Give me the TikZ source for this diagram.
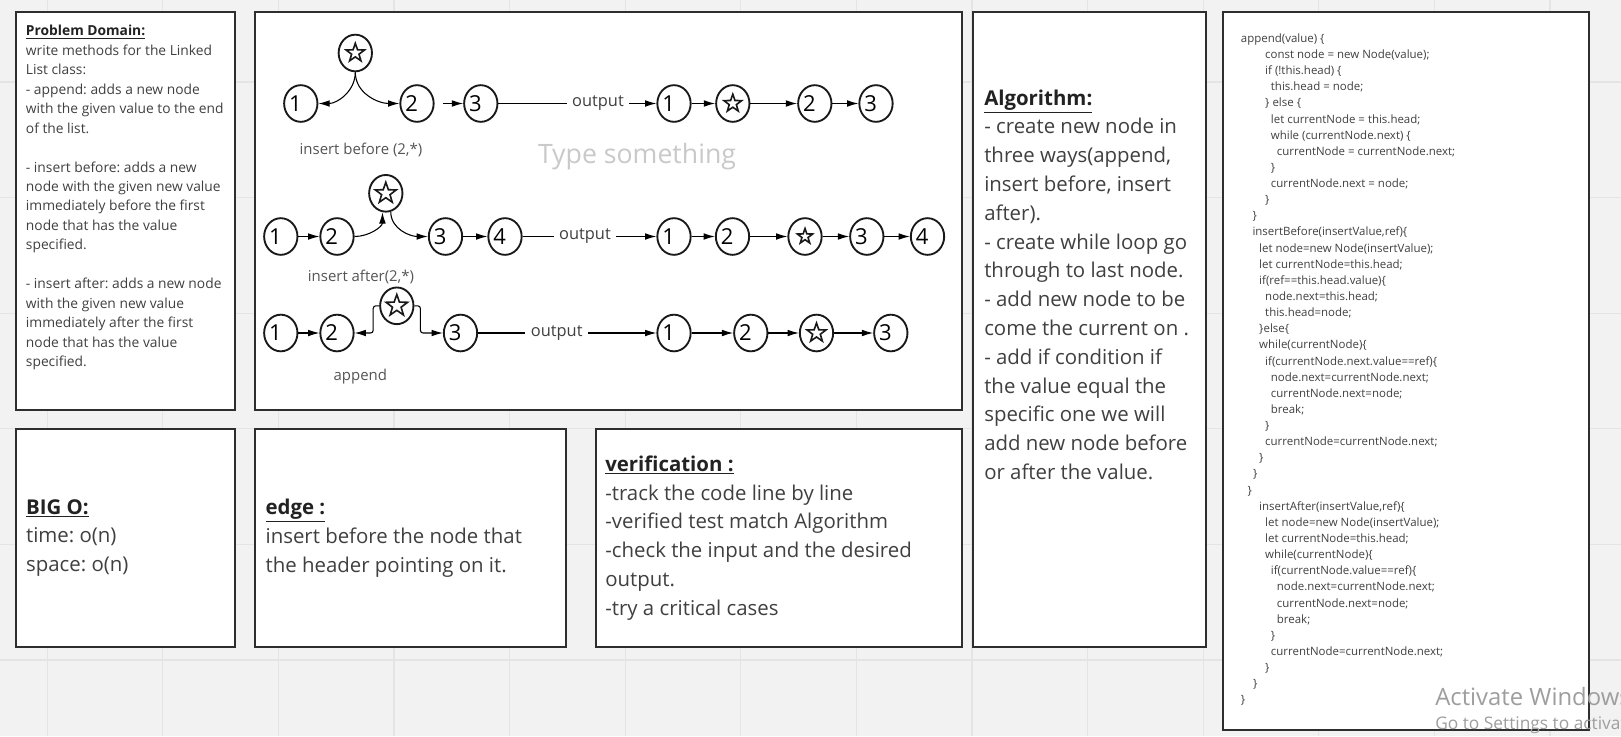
\documentclass[tikz,border=0pt]{standalone}
\usepackage{fontspec}
\setmainfont{Open Sans}
\usetikzlibrary{arrows.meta, positioning, shapes.geometric, fit}
\frenchspacing

\definecolor{canvas}{HTML}{F2F2F2}
\definecolor{gridline}{HTML}{E4E4E4}
\definecolor{panelline}{HTML}{2E2E2E}
\definecolor{inkgray}{HTML}{404040}
\definecolor{titleink}{HTML}{222222}
\definecolor{labelgray}{HTML}{555555}
\definecolor{hintgray}{HTML}{C9C9C9}
\definecolor{wmgray}{HTML}{9E9E9E}

\newdimen\pxunit \pxunit=0.75pt
\newcommand\ind[1]{\hspace*{#1\pxunit}}
\newcommand\boxfont{\fontsize{15.3}{21.6}\selectfont}
\newcommand\pdfont{\fontsize{10.35}{14.6}\selectfont}
\newcommand\codefont{\fontsize{8.6}{12.1}\selectfont}
\newcommand\numfont{\fontsize{16.5}{16.5}\selectfont}
\newcommand\labfont{\fontsize{11.2}{13}\selectfont}
\newcommand\paneltitle[1]{\textcolor{titleink}{\underline{\textbf{#1}}}}

\begin{document}
\begin{tikzpicture}[x=0.75pt, y=-0.75pt,
    panel/.style={draw=panelline, line width=1.5pt, fill=white, inner sep=0pt},
    paneltext/.style={align=left, text=inkgray, inner sep=0pt},
    lnode/.style={ellipse, draw=black!90, line width=1.4pt, minimum width=25pt, minimum height=27.5pt, inner sep=0pt},
    num/.style={lnode, font=\numfont, execute at end node={\kern8pt}},
    starmark/.style={star, star points=5, star point ratio=2.5, draw=black!90, line width=1.2pt, inner sep=0pt, minimum size=#1},
    snode/.style={lnode, path picture={\node[starmark=#1] at (path picture bounding box.center) {};}},
    snode/.default=14.5pt,
    link/.style={-{Latex[length=8.5pt, width=5pt]}, line width=0.8pt},
    plain/.style={line width=0.8pt},
    caption/.style={font=\labfont, text=labelgray},
    outlabel/.style={font=\fontsize{12.3}{14}\selectfont, text=inkgray, inner xsep=4pt, inner ysep=1.5pt}]

\useasboundingbox (0,0) rectangle (1621,736);
\clip (0,0) rectangle (1621,736);
\fill[canvas] (0,0) rectangle (1621,736);
\foreach \gx in {0,...,13}
    \draw[gridline, line width=0.8pt] ({47.2+115.6*\gx},0) -- ++(0,736);
\foreach \gy in {0,...,5}
    \draw[gridline, line width=0.8pt] (0,{82+115.6*\gy}) -- ++(1621,0);

% panels
\node[panel, fit={(15.5,12.4) (234.7,410)}] (domain) {};
\node[panel, fit={(255,12.4) (961.5,410)}] (sketch) {};
\node[panel, fit={(973,12.4) (1205.5,647)}] (algo) {};
\node[panel, fit={(1223,12.4) (1589,730)}] (code) {};
\node[panel, fit={(15.5,429) (234.7,647)}] (bigo) {};
\node[panel, fit={(255,429) (565.5,647)}] (edgecase) {};
\node[panel, fit={(595.5,429) (961.5,647)}] (verify) {};

\node[paneltext, font=\pdfont, below right=10.2pt and 8.4pt of domain.north west] (domaintxt) {%
\paneltitle{Problem Domain:}\\
write methods for the Linked\\
List class:\\
- append: adds a new node\\
with the given value to the end\\
of the list.\\[14.6pt]
- insert before: adds a new\\
node with the given new value\\
immediately before the first\\
node that has the value\\
specified.\\[14.6pt]
- insert after: adds a new node\\
with the given new value\\
immediately after the first\\
node that has the value\\
specified.};

\node[paneltext, font=\boxfont, below right=58.4pt and 9pt of algo.north west] (algotxt) {%
\paneltitle{Algorithm:}\\
- create new node in\\
three ways(append,\\
insert before, insert\\
after).\\
- create while loop go\\
through to last node.\\
- add new node to be\\
come the current on .\\
- add if condition if\\
the value equal the\\
specific one we will\\
add new node before\\
or after the value.};

\node[paneltext, font=\boxfont, anchor=west, right=8.5pt of bigo.west] (bigotxt) {%
\paneltitle{BIG O:}\\
time: o(n)\\
space: o(n)};

\node[paneltext, font=\boxfont, anchor=west, right=8.5pt of edgecase.west] (edgetxt) {%
\paneltitle{edge :}\\
insert before the node that\\
the header pointing on it.};

\node[paneltext, font=\boxfont, anchor=west, right=7.9pt of verify.west] (verifytxt) {%
\paneltitle{verification :}\\
-track the code line by line\\
-verified test match Algorithm\\
-check the input and the desired\\
output.\\
-try a critical cases};

\node[paneltext, font=\codefont, below right=16.5pt and 14pt of code.north west] (codetxt) {%
\ind{0}append(value) \{\\
\ind{24.3}const node = new Node(value);\\
\ind{24.3}if (!this.head) \{\\
\ind{30}this.head = node;\\
\ind{24.3}\} else \{\\
\ind{30}let currentNode = this.head;\\
\ind{30}while (currentNode.next) \{\\
\ind{36}currentNode = currentNode.next;\\
\ind{30}\}\\
\ind{30}currentNode.next = node;\\
\ind{24.3}\}\\
\ind{11.6}\}\\
\ind{11.6}insertBefore(insertValue,ref)\{\\
\ind{18.3}let node=new Node(insertValue);\\
\ind{18.3}let currentNode=this.head;\\
\ind{18.3}if(ref==this.head.value)\{\\
\ind{24.3}node.next=this.head;\\
\ind{24.3}this.head=node;\\
\ind{18.3}\}else\{\\
\ind{18.3}while(currentNode)\{\\
\ind{24.3}if(currentNode.next.value==ref)\{\\
\ind{30}node.next=currentNode.next;\\
\ind{30}currentNode.next=node;\\
\ind{30}break;\\
\ind{24.3}\}\\
\ind{24.3}currentNode=currentNode.next;\\
\ind{18.3}\}\\
\ind{12.3}\}\\
\ind{6.6}\}\\
\ind{18.3}insertAfter(insertValue,ref)\{\\
\ind{24.3}let node=new Node(insertValue);\\
\ind{24.3}let currentNode=this.head;\\
\ind{24.3}while(currentNode)\{\\
\ind{30}if(currentNode.value==ref)\{\\
\ind{36}node.next=currentNode.next;\\
\ind{36}currentNode.next=node;\\
\ind{36}break;\\
\ind{30}\}\\
\ind{30}currentNode=currentNode.next;\\
\ind{24.3}\}\\
\ind{12.3}\}\\
\ind{0}\}};

\node[font=\fontsize{20}{24}\selectfont, text=hintgray] (hint) at (637,157) {Type something};

% insert before
\node[num] (IB1) at (300.8,103.5) {1};
\node[snode] (IBs) at (355.3,53) {};
\node[num] (IB2) at (417,103.5) {2};
\node[num] (IB3) at (480.8,103.5) {3};
\node[outlabel] (IBout) at (598,103.5) {output};
\node[num] (OB1) at (674,103.5) {1};
\node[snode=14pt] (OBs) at (732.8,103.5) {};
\node[num] (OB2) at (814.8,103.5) {2};
\node[num] (OB3) at (876,103.5) {3};
\node[caption] (IBcap) at (361,149.5) {insert before (2,*)};

\draw[link] (IBs.south) to[out=-90, in=0] (IB1.east);
\draw[link] (IBs.south) to[out=-90, in=180] (IB2.west);
\draw[link, shorten <=6pt] (IB2) -- (IB3);
\draw[plain] (IB3) -- (IBout);
\draw[link] (IBout) -- (OB1);
\foreach \a/\b in {OB1/OBs, OBs/OB2, OB2/OB3}
    \draw[link] (\a) -- (\b);

% insert after
\node[num] (IA1) at (280.8,236.5) {1};
\node[num] (IA2) at (337,236.5) {2};
\node[snode=16.5pt] (IAs) at (385.8,193.3) {};
\node[num] (IA3) at (445.5,236.5) {3};
\node[num] (IA4) at (505,236.5) {4};
\node[outlabel] (IAout) at (585,236.5) {output};
\node[num] (OA1) at (674,236.5) {1};
\node[num] (OA2) at (732.5,236.5) {2};
\node[snode=12pt] (OAs) at (805,236.5) {};
\node[num] (OA3) at (866.8,236.5) {3};
\node[num] (OA4) at (927.5,236.5) {4};
\node[caption] (IAcap) at (361,276.5) {insert after(2,*)};

\draw[link] (IA1) -- (IA2);
\draw[link] (IA2.east) to[out=0, in=-90] (IAs.-100);
\draw[link] (IAs.-75) to[out=-90, in=180] (IA3.west);
\draw[link] (IA3) -- (IA4);
\draw[plain] (IA4) -- (IAout);
\draw[link] (IAout) -- (OA1);
\foreach \a/\b in {OA1/OA2, OA2/OAs, OAs/OA3, OA3/OA4}
    \draw[link] (\a) -- (\b);

% append
\node[num] (AP1) at (280.8,333) {1};
\node[num] (AP2) at (337,333) {2};
\node[snode=17pt] (APs) at (396.8,305.8) {};
\node[num] (AP3) at (460.5,333) {3};
\node[outlabel] (APout) at (556.7,333) {output};
\node[num] (OP1) at (674,333) {1};
\node[num] (OP2) at (750.8,333) {2};
\node[snode=15pt] (OPs) at (816.5,333) {};
\node[num] (OP3) at (890.8,333) {3};
\node[caption] (APcap) at (360.3,376.5) {append};

\draw[link] (AP1) -- (AP2);
\draw[link, rounded corners=2pt] (APs.west) -- ++(-6,0) |- (AP2.east);
\draw[link, rounded corners=2pt] (APs.east) -- ++(6,0) |- (AP3.west);
\draw[plain] (AP3) -- (APout);
\draw[link] (APout) -- (OP1);
\foreach \a/\b in {OP1/OP2, OP2/OPs, OPs/OP3}
    \draw[link] (\a) -- (\b);

\node[anchor=base west, inner sep=0pt, font=\fontsize{17.9}{20}\selectfont, text=wmgray] (wmtop) at (1435,705) {Activate Windows};
\node[anchor=base west, inner sep=0pt, font=\fontsize{13}{15}\selectfont, text=wmgray] (wmbot) at (1435,729) {Go to Settings to activate Windows.};
\end{tikzpicture}
\end{document}
